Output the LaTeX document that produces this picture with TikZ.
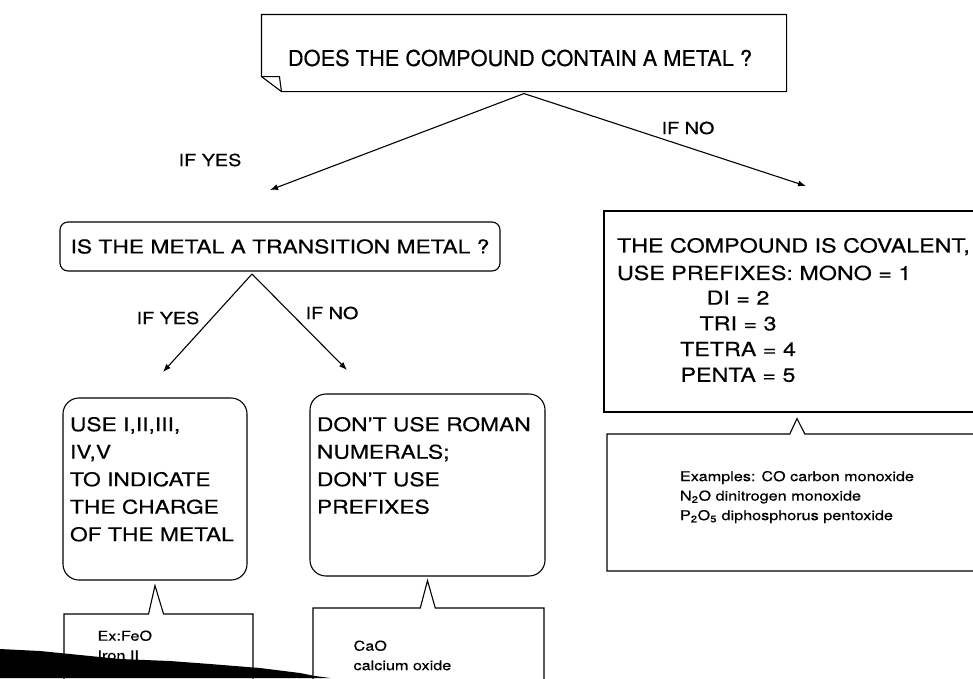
\documentclass[tikz,border=0pt]{standalone}
\usepackage{fontspec}
\setmainfont{TeX Gyre Heros}[FakeStretch=1.2,FakeBold=0.4]
\newfontfamily\plainfont{TeX Gyre Heros}[FakeBold=0.4]
\usetikzlibrary{arrows.meta,positioning,shapes.callouts}

\begin{document}
\begin{tikzpicture}[x=1pt,y=-1pt,>={Latex[length=8pt,width=6pt]},line width=1.1pt,
  every node/.style={inner sep=0pt}]
\tikzstyle{qbox}=[draw,rounded corners=8pt,minimum width=440,minimum height=49]
\tikzstyle{bigbox}=[draw,rounded corners=16pt]
\tikzstyle{flatbox}=[draw]
\tikzstyle{note}=[rectangle callout,draw,callout pointer width=15pt]
\tikzstyle{caps}=[font=\fontsize{19}{27.5}\selectfont,align=left,anchor=north west]
\tikzstyle{small}=[font=\fontsize{13.5}{19.5}\selectfont,align=left,anchor=north west]
\tikzstyle{lbl}=[font=\fontsize{16.5}{18}\selectfont]

\useasboundingbox (0,0) rectangle (973,678);
\clip (0,0) rectangle (973,678);

% first question, box with a folded corner
\node[minimum width=524,minimum height=76] (metal) at (524,53) {};
\node[font=\plainfont\fontsize{21.8}{24}\selectfont] (metaltxt) at (520,58) {DOES THE COMPOUND CONTAIN A METAL ?};
\draw (metal.north west) -- (metal.north east) -- (metal.south east) -- ([xshift=20pt]metal.south west)
  -- ([yshift=15pt]metal.south west) -- cycle;
\draw ([yshift=15pt]metal.south west) -- ++(18,0) -- ([xshift=20pt]metal.south west);

% second question
\node[qbox,font=\fontsize{19}{22}\selectfont] (trans) at (280,246.5) {IS THE METAL A TRANSITION METAL ?};

% answers
\node[bigbox,minimum width=184,minimum height=182] (roman) at (155,489) {};
\node[caps] (romantxt) at ([xshift=7pt,yshift=-19pt]roman.north west) {USE I,II,III,\\IV,V\\TO INDICATE\\THE CHARGE\\OF THE METAL};
\node[bigbox,minimum width=235,minimum height=182] (noroman) at (427.5,485) {};
\node[caps] (noromantxt) at ([xshift=7pt,yshift=-23pt]noroman.north west) {DON'T USE ROMAN\\NUMERALS;\\DON'T USE\\PREFIXES};
\node[flatbox,minimum width=386,minimum height=201] (cov) at (797,311.5) {};
\node[caps,font=\fontsize{19.4}{27.5}\selectfont] (covtxt) at ([xshift=13pt,yshift=-27pt]cov.north west) {THE COMPOUND IS COVALENT,\\USE PREFIXES: MONO = 1};
\node[font=\fontsize{19.4}{25.7}\selectfont,align=center,anchor=north] (prefix) at (738,290) {DI = 2\\TRI = 3\\TETRA = 4\\PENTA = 5};

% example notes
\node[note,minimum width=189,minimum height=132,callout absolute pointer={([yshift=-5pt]roman.south)}] (fe) at (158.5,680) {};
\node[note,minimum width=231,minimum height=144,callout absolute pointer={([yshift=-4pt]noroman.south)}] (ca) at (428.5,680) {};
\node[note,minimum width=383,minimum height=137,callout absolute pointer={([yshift=-6pt]cov.south)}] (ex) at (798.5,502.5) {};

% dark smear of the scan
\fill (0,649) -- (40,651) -- (80,655) -- (120,659) -- (170,661) -- (210,664) -- (260,668) -- (300,673)
  -- (315,676) -- (330,678) -- (0,678) -- cycle;

\node[small] (fetxt) at (97,630) {Ex:FeO\\Iron II};
\node[small] (catxt) at (353,640) {CaO\\calcium oxide};
\node[small] (extxt) at ([xshift=73pt,yshift=-37pt]ex.north west) {Examples: CO carbon monoxide\\N\textsubscript{2}O dinitrogen monoxide\\P\textsubscript{2}O\textsubscript{5} diphosphorus pentoxide};

% connectors
\coordinate (metaltip) at ([yshift=-2pt]metal.south);
\coordinate (yesend) at (270,190);
\coordinate (noend) at (806,186);
\draw[->] (metaltip) -- (yesend);
\draw[->] (metaltip) -- (noend);
\node[lbl] (yes1) at (210,160) {IF YES};
\node[lbl] (no1) at (688,128) {IF NO};

\coordinate (transtip) at (252,274);
\coordinate (yesend2) at (163,372);
\coordinate (noend2) at (347,370);
\draw[->] (transtip) -- (yesend2);
\draw[->] (transtip) -- (noend2);
\node[lbl] (yes2) at (168,318) {IF YES};
\node[lbl] (no2) at (332,313) {IF NO};
\end{tikzpicture}
\end{document}
